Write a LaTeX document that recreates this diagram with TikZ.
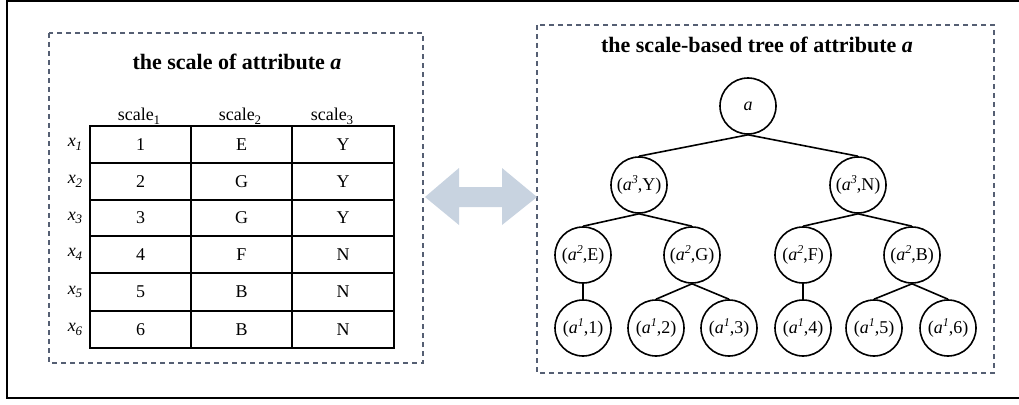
\documentclass[tikz,border=0pt]{standalone}
\usepackage{fontspec}
\setmainfont{Liberation Serif}
\definecolor{dashgray}{RGB}{85,95,115}
\definecolor{arrowcol}{RGB}{200,211,224}
\newcommand{\lowidx}[1]{\raisebox{-0.45ex}{\fontsize{13}{13}\selectfont #1}}
\newcommand{\hiidx}[1]{\raisebox{0.75ex}{\fontsize{12}{12}\selectfont\itshape #1}}
\begin{document}
\begin{tikzpicture}[x=1pt,y=-1pt,
  dashbox/.style={draw=dashgray, dash pattern=on 5pt off 4pt, line width=1.3pt},
  title/.style={font=\fontsize{22}{24}\selectfont\bfseries},
  tnode/.style={circle, draw, line width=1.6pt, minimum size=56pt, inner sep=0pt, font=\fontsize{18}{18}\selectfont},
  tedge/.style={line width=1.6pt},
  cell/.style={font=\fontsize{18}{18}\selectfont, inner sep=0pt},
  grid/.style={line width=2.2pt}]
\useasboundingbox (0,0) rectangle (1019,404);
% outer frame
\draw[line width=2pt] (1030,1.5) -- (6.5,1.5) -- (6.5,397.5) -- (1030,397.5);
% dashed boxes
\draw[dashbox] (49,33) rectangle (423,363);
\draw[dashbox] (537,25) rectangle (994,373);
% titles
\node[title] (t1) at (237,62) {the scale of attribute \textit{a}};
\node[title] (t2) at (757,45) {the scale-based tree of attribute \textit{a}};
% table grid
\draw[grid] (90,126) rectangle (394,348);
\foreach \xx in {191,292} \draw[grid] (\xx,126) -- (\xx,348);
\foreach \yy in {163,200,236,273,311} \draw[grid] (90,\yy) -- (394,\yy);
% headers
\node[cell] (h1) at (139,116) {scale\lowidx{1}};
\node[cell] (h2) at (240,116) {scale\lowidx{2}};
\node[cell] (h3) at (332,116) {scale\lowidx{3}};
% rows
\foreach \i/\yy/\va/\vb/\vc in {1/144.5/1/E/Y, 2/181.5/2/G/Y, 3/218/3/G/Y, 4/254.5/4/F/N, 5/292/5/B/N, 6/329.5/6/B/N} {
  \node[cell] (r\i) at (75,\yy) {\textit{x}\lowidx{\textit{\i}}};
  \node[cell] (c\i a) at (140.5,\yy) {\va};
  \node[cell] (c\i b) at (241.5,\yy) {\vb};
  \node[cell] (c\i c) at (343,\yy) {\vc};
}
% double arrow
\fill[arrowcol] (425,197) -- (459,168) -- (459,187) -- (502,187) -- (502,168) -- (537,197)
  -- (502,225) -- (502,207) -- (459,207) -- (459,225) -- cycle;
% tree
\node[tnode] (root) at (748,106) {\textit{a}};
\node[tnode] (y3) at (639,185) {(\textit{a}\hiidx{3},Y)};
\node[tnode] (n3) at (858,185) {(\textit{a}\hiidx{3},N)};
\node[tnode] (e2) at (583,255) {(\textit{a}\hiidx{2},E)};
\node[tnode] (g2) at (692,255) {(\textit{a}\hiidx{2},G)};
\node[tnode] (f2) at (803,255) {(\textit{a}\hiidx{2},F)};
\node[tnode] (b2) at (912,255) {(\textit{a}\hiidx{2},B)};
\node[tnode] (l1) at (583,328) {(\textit{a}\hiidx{1},1)};
\node[tnode] (l2) at (656,328) {(\textit{a}\hiidx{1},2)};
\node[tnode] (l3) at (729,328) {(\textit{a}\hiidx{1},3)};
\node[tnode] (l4) at (803,328) {(\textit{a}\hiidx{1},4)};
\node[tnode] (l5) at (874,328) {(\textit{a}\hiidx{1},5)};
\node[tnode] (l6) at (948,328) {(\textit{a}\hiidx{1},6)};
\foreach \p/\c in {root/y3, root/n3, y3/e2, y3/g2, n3/f2, n3/b2, e2/l1, g2/l2, g2/l3, f2/l4, b2/l5, b2/l6}
  \draw[tedge] (\p.south) -- (\c.north);
\end{tikzpicture}
\end{document}
